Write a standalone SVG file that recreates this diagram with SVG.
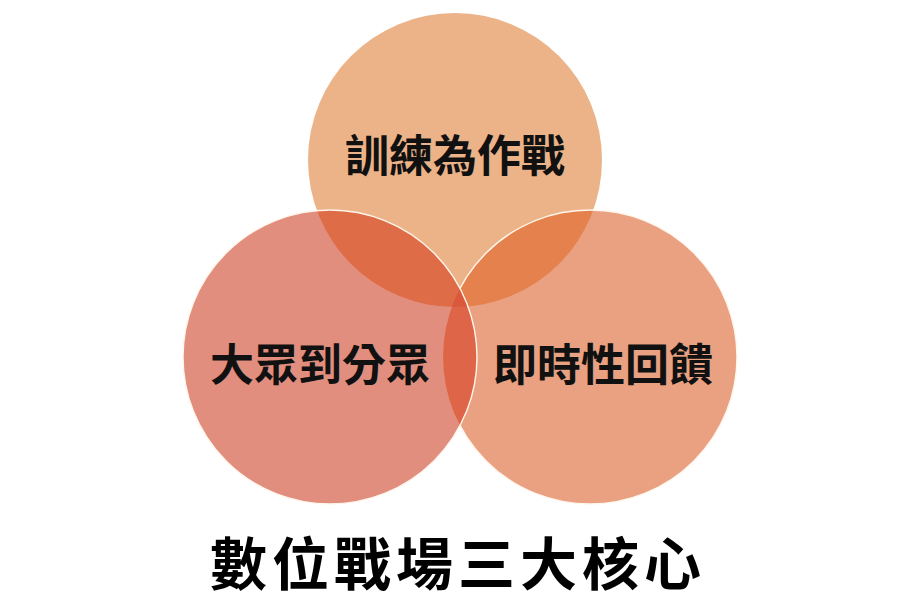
<svg xmlns="http://www.w3.org/2000/svg" width="900" height="614" viewBox="0 0 900 614">
  <style>
    .lbl { font-family: "Noto Sans CJK TC", "Noto Sans CJK SC", sans-serif; font-weight: 700; font-size: 44px; fill: #111111; }
    .title { font-family: "Noto Sans CJK TC", "Noto Sans CJK SC", sans-serif; font-weight: 700; font-size: 57px; fill: #000000; letter-spacing: 5px; }
    .edge { fill: none; stroke: #FFF6EC; stroke-width: 1.4; }
  </style>
  <defs>
    <clipPath id="cT"><circle cx="455" cy="160" r="147"/></clipPath>
    <clipPath id="cL"><circle cx="330" cy="357" r="147"/></clipPath>
    <clipPath id="cR"><circle cx="590" cy="357" r="147"/></clipPath>
    <mask id="notL" maskUnits="userSpaceOnUse" x="0" y="0" width="900" height="614">
      <rect x="0" y="0" width="900" height="614" fill="#fff"/>
      <circle cx="330" cy="357" r="147" fill="#000"/>
    </mask>
  </defs>
  <rect x="0" y="0" width="900" height="614" fill="#ffffff"/>

  <g id="node-top">
    <circle cx="455" cy="160" r="147" fill="#EDB388"/>
  </g>
  <g id="node-left">
    <circle cx="330" cy="357" r="147" fill="#E28E7E"/>
  </g>
  <g id="node-right">
    <circle cx="590" cy="357" r="147" fill="#E9A181"/>
  </g>

  <g id="overlaps">
    <circle cx="330" cy="357" r="147" fill="#DE6C47" clip-path="url(#cT)"/>
    <circle cx="590" cy="357" r="147" fill="#E4814C" clip-path="url(#cT)"/>
    <circle cx="590" cy="357" r="147" fill="#DE6548" clip-path="url(#cL)"/>
    <g clip-path="url(#cT)">
      <circle cx="590" cy="357" r="147" fill="#DA583B" clip-path="url(#cL)"/>
    </g>
  </g>

  <g id="edges">
    <circle class="edge" cx="590" cy="357" r="147" mask="url(#notL)"/>
    <circle class="edge" cx="330" cy="357" r="147"/>
  </g>

  <g id="labels">
    <text class="lbl" x="345" y="172">訓練為作戰</text>
    <text class="lbl" x="210" y="381">大眾到分眾</text>
    <text class="lbl" x="493" y="381">即時性回饋</text>
  </g>

  <g id="title">
    <text class="title" x="210" y="585">數位戰場三大核心</text>
  </g>
</svg>
